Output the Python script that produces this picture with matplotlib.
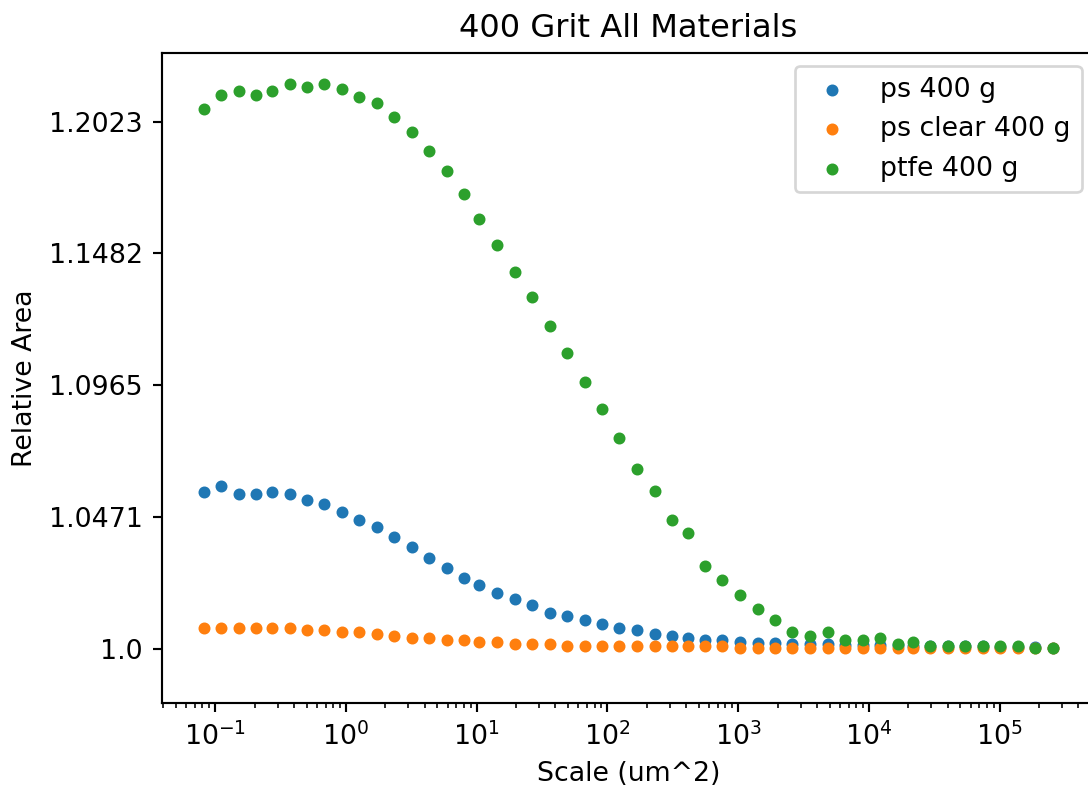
from matplotlib import pyplot as plt
from matplotlib.ticker import NullLocator

# scale (um^2)
scale = [0.0823, 0.1118, 0.1517, 0.2063, 0.2717, 0.3715, 0.5042, 0.6855, 0.9305, 1.263,
         1.718, 2.343, 3.187, 4.348, 5.913, 8.025, 10.51, 14.38, 19.51, 26.67,
         36.20, 49.21, 66.81, 90.69, 121.8, 169.4, 229.9, 312.1, 409.8, 556.3,
         755.0, 1032, 1411, 1905, 2598, 3534, 4824, 6557, 8949, 12165,
         16600, 21640, 29430, 40160, 54610, 74510, 101270, 138200, 187900, 253700]

ps_400 = [1.0563, 1.0585, 1.0555, 1.0555, 1.0563, 1.0555, 1.0534, 1.0520, 1.0491, 1.0462,
          1.0434, 1.0399, 1.0364, 1.0322, 1.0287, 1.0252, 1.0225, 1.0196, 1.0176, 1.0156,
          1.0128, 1.0115, 1.0101, 1.0088, 1.0074, 1.0067, 1.0054, 1.0047, 1.0040, 1.0033,
          1.0033, 1.0026, 1.0020, 1.0020, 1.0016, 1.0016, 1.0016, 1.0014, 1.0014, 1.0014,
          1.0014, 1.0010, 1.0010, 1.0010, 1.0010, 1.0010, 1.0007, 1.0007, 1.0007, 1.0005]

ps_clear_400 = [1.0074, 1.0074, 1.0074, 1.0074, 1.0074, 1.0074, 1.0067, 1.0067, 1.0060, 1.0060,
                1.0053, 1.0047, 1.0040, 1.0040, 1.0033, 1.0033, 1.0026, 1.0026, 1.0019, 1.0019,
                1.0019, 1.0012, 1.0012, 1.0012, 1.0012, 1.0012, 1.0012, 1.0012, 1.0012, 1.0012,
                1.0012, 1.0005, 1.0005, 1.0005, 1.0005, 1.0005, 1.0005, 1.0005, 1.0005, 1.0005,
                1.0005, 1.0005, 1.0005, 1.0005, 1.0005, 1.0005, 1.0005, 1.0005, 1.0005, 1.0005]

ptfe_400 = [1.2076, 1.2135, 1.2151, 1.2135, 1.2151, 1.2183, 1.2168, 1.2183, 1.2159, 1.2126,
            1.2102, 1.2043, 1.1979, 1.1900, 1.1818, 1.1723, 1.1620, 1.1517, 1.1409, 1.1310,
            1.1196, 1.1089, 1.0977, 1.0873, 1.0764, 1.0648, 1.0569, 1.0462, 1.0412, 1.0294,
            1.0245, 1.0190, 1.0141, 1.0101, 1.0060, 1.0047, 1.0060, 1.0031, 1.0031, 1.0040,
            1.0019, 1.0026, 1.0012, 1.0012, 1.0012, 1.0012, 1.0012, 1.0012, 1.0005, 1.0005]

series_names = ["ps 400 g", "ps clear 400 g", "ptfe 400 g"]

ytick_values = [1.0, 1.0471, 1.0965, 1.1482, 1.2023]
ytick_labels = ["1.0", "1.0471", "1.0965", "1.1482", "1.2023"]

dpi = 193
fig = plt.figure(figsize=(1088 / dpi, 795 / dpi), dpi=dpi)
ax = fig.add_axes([0.1486, 0.1153, 0.8578, 0.8184])

for y, name in zip([ps_400, ps_clear_400, ptfe_400], series_names):
    ax.scatter(scale, y, s=12, label=name)

ax.set_xscale("log")
ax.set_yscale("log")
ax.set_ylim(0.9812, 1.2316)
ax.set_yticks(ytick_values)
ax.set_yticklabels(ytick_labels)
ax.yaxis.set_minor_locator(NullLocator())

ax.set_title("400 Grit All Materials")
ax.set_xlabel("Scale (um^2)")
ax.set_ylabel("Relative Area")
ax.legend(loc="upper right")

fig.savefig("out.png", dpi=dpi)
